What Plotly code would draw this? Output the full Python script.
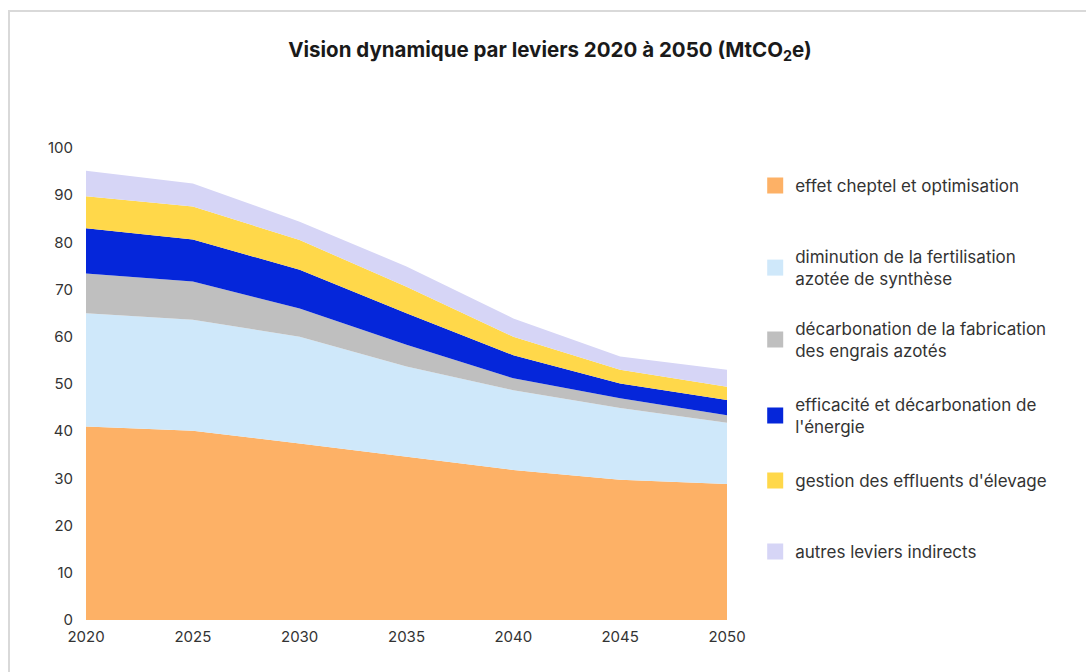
import plotly.graph_objects as go

# données (MtCO2e)
annees = [2020, 2025, 2030, 2035, 2040, 2045, 2050]
cheptel = [41.0, 40.1, 37.4, 34.6, 31.8, 29.7, 28.8]
fertilisation = [24.0, 23.5, 22.6, 19.1, 16.9, 15.2, 13.0]
engrais = [8.4, 8.1, 6.0, 4.6, 2.5, 2.1, 1.6]
energie = [9.6, 8.9, 8.2, 6.7, 4.9, 3.1, 3.2]
effluents = [6.8, 7.0, 6.3, 5.6, 3.9, 2.9, 2.8]
autres = [5.4, 4.9, 3.9, 4.3, 3.9, 2.8, 3.6]

noms = [
    "effet cheptel et optimisation",
    "diminution de la fertilisation<br>azotée de synthèse",
    "décarbonation de la fabrication<br>des engrais azotés",
    "efficacité et décarbonation de<br>l'énergie",
    "gestion des effluents d'élevage",
    "autres leviers indirects",
]
series = [cheptel, fertilisation, engrais, energie, effluents, autres]
couleurs = ["#FDB166", "#CFE8FA", "#BFBFBF", "#0526DA", "#FFD84A", "#D6D5F6"]

# centre vertical de chaque entrée de légende (en pixels)
legende_y = [186, 268, 340, 416, 481, 552]

police = "Inter"

fig = go.Figure()

for i, (nom, vals, coul) in enumerate(zip(noms, series, couleurs)):
    fig.add_trace(go.Scatter(
        x=annees, y=vals, stackgroup="one", mode="lines",
        line=dict(width=0, color=coul), fillcolor=coul,
        showlegend=False, hoverinfo="x+y+name", name=nom.replace("<br>", " "),
    ))
    # entrée de légende carrée
    leg = "legend" if i == 0 else f"legend{i+1}"
    fig.add_trace(go.Scatter(
        x=[None], y=[None], mode="markers", name=nom,
        marker=dict(symbol="square", size=16, color=coul),
        legend=leg, showlegend=True,
    ))

# mise en page
haut, bas, gauche, droite = 148, 52, 86, 359
h_plot = 672 - haut - bas

legendes = {}
for i, py in enumerate(legende_y):
    key = "legend" if i == 0 else f"legend{i+1}"
    legendes[key] = dict(
        x=1.044, xanchor="left",
        y=(620 - py) / h_plot, yanchor="middle",
        font=dict(family=police, size=17, color="#333333"),
        bgcolor="rgba(0,0,0,0)", itemclick=False,
    )

fig.update_layout(
    width=1086, height=672,
    margin=dict(l=gauche, r=droite, t=haut, b=bas),
    paper_bgcolor="white", plot_bgcolor="white",
    font=dict(family=police, color="#333333"),
    title=dict(
        text="<b>Vision dynamique par leviers 2020 à 2050 (MtCO<sub>2</sub>e)</b>",
        x=550 / 1086, xref="container", xanchor="center",
        y=1 - 50 / 672, yref="container", yanchor="middle",
        font=dict(family=police, size=20.5, color="#1a1a1a"),
    ),
    xaxis=dict(
        range=[2020, 2050], tickvals=annees, showgrid=False, zeroline=False,
        showline=False, ticks="", ticklabelstandoff=6,
        tickfont=dict(family=police, size=15, color="#333333"),
    ),
    yaxis=dict(
        range=[0, 100], dtick=10, showgrid=False, zeroline=False,
        showline=False, ticks="", ticklabelstandoff=12,
        tickfont=dict(family=police, size=15, color="#333333"),
    ),
    **legendes,
)

# cadre gris autour de la figure
fig.add_shape(
    type="rect", xref="paper", yref="paper",
    x0=(9 - gauche) / 641, x1=(1100 - gauche) / 641,
    y0=(620 - 690) / h_plot, y1=(620 - 11) / h_plot,
    line=dict(color="#D9D9D9", width=2), fillcolor="rgba(0,0,0,0)",
    layer="below",
)

# pas de marge autour de la page, pas de barre d'outils
fig.write_html("out.html", config={"displayModeBar": False},
               post_script="document.body.style.margin='0';")
